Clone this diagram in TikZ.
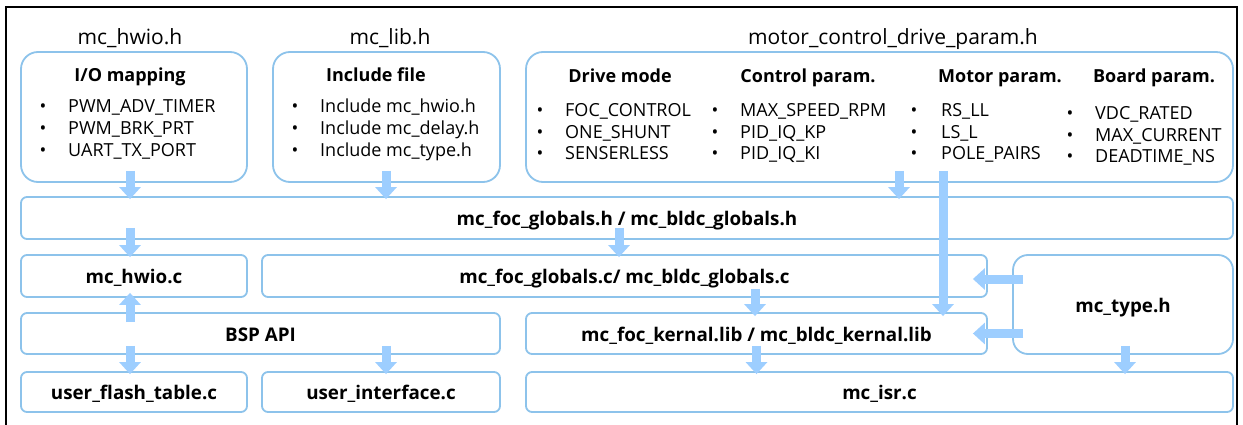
\documentclass[tikz,border=0pt]{standalone}
\usepackage{fontspec}
\setmainfont{Open Sans}
\usetikzlibrary{arrows.meta}
\definecolor{bord}{HTML}{8DC3EB}
\definecolor{arr}{HTML}{9DCEFF}
\begin{document}
\begin{tikzpicture}[x=1pt,y=-1pt,
  box/.style={draw=bord, line width=1.8pt, rounded corners=6pt, inner sep=0pt,
    text height=16pt, text depth=1pt, font=\fontsize{18.8}{21}\selectfont\bfseries},
  bigbox/.style={box, rounded corners=17pt},
  lbl/.style={anchor=base, inner sep=0pt, font=\fontsize{21}{24}\selectfont},
  hdr/.style={anchor=base, inner sep=0pt, font=\fontsize{18}{21}\selectfont\bfseries},
  bul/.style={anchor=base, inner sep=0pt, font=\fontsize{18}{21}\selectfont},
  itm/.style={anchor=base west, inner sep=0pt, font=\fontsize{18}{21}\selectfont},
  fat/.style={draw=arr, line width=9pt, -{Triangle[width=21pt,length=12pt]}},
  frame/.style={draw=black, line width=2.5pt}
]
\useasboundingbox (0,0) rectangle (1243,425);
\fill[white] (0,0) rectangle (1243,425);
\draw[frame] (6,440) -- (6,7) -- (1237,7) -- (1237,440);

% top boxes
\node[bigbox, minimum width=226pt, minimum height=130pt] (io)  at (134,117) {};
\node[bigbox, minimum width=227pt, minimum height=130pt] (inc) at (386.5,117) {};
\node[bigbox, minimum width=707pt, minimum height=130pt] (mot) at (879.5,117) {};

% file labels
\node[lbl] (lio)  at (130,45) {mc\_hwio.h};
\node[lbl] (linc) at (390,45) {mc\_lib.h};
\node[lbl] (lmot) at (893,45) {motor\_control\_drive\_param.h};

% headers
\node[hdr] (hio)  at (130,82) {I/O mapping};
\node[hdr] (hinc) at (376,82) {Include file};
\node[hdr] (hdrv) at (620,83) {Drive mode};
\node[hdr] (hctl) at (808,83) {Control param.};
\node[hdr] (hmtr) at (1000,83) {Motor param.};
\node[hdr] (hbrd) at (1154,83) {Board param.};

% bullet lists
\foreach \t [count=\i] in {PWM\_ADV\_TIMER, PWM\_BRK\_PRT, UART\_TX\_PORT}{
  \node[bul] (iob\i) at (43,{113+22*(\i-1)}) {•};
  \node[itm] (iot\i) at (68,{113+22*(\i-1)}) {\t};}
\foreach \t [count=\i] in {Include mc\_hwio.h, Include mc\_delay.h, Include mc\_type.h}{
  \node[bul] (incb\i) at (295,{113+22*(\i-1)}) {•};
  \node[itm] (inct\i) at (320,{113+22*(\i-1)}) {\t};}
\foreach \t [count=\i] in {FOC\_CONTROL, ONE\_SHUNT, SENSERLESS}{
  \node[bul] (drvb\i) at (540,{117+21.5*(\i-1)}) {•};
  \node[itm] (drvt\i) at (565,{117+21.5*(\i-1)}) {\t};}
\foreach \t [count=\i] in {MAX\_SPEED\_RPM, PID\_IQ\_KP, PID\_IQ\_KI}{
  \node[bul] (ctlb\i) at (715,{117+21.5*(\i-1)}) {•};
  \node[itm] (ctlt\i) at (740,{117+21.5*(\i-1)}) {\t};}
\foreach \t [count=\i] in {RS\_LL, LS\_L, POLE\_PAIRS}{
  \node[bul] (mtrb\i) at (914,{117+21.5*(\i-1)}) {•};
  \node[itm] (mtrt\i) at (941,{117+21.5*(\i-1)}) {\t};}
\foreach \t [count=\i] in {VDC\_RATED, MAX\_CURRENT, DEADTIME\_NS}{
  \node[bul] (brdb\i) at (1070,{120+21.5*(\i-1)}) {•};
  \node[itm] (brdt\i) at (1095,{120+21.5*(\i-1)}) {\t};}

% lower boxes
\node[box, minimum width=1212pt, minimum height=42pt] (glh) at (627,218) {mc\_foc\_globals.h / mc\_bldc\_globals.h};
\node[box, minimum width=226pt, minimum height=42pt] (hwc) at (134,276) {mc\_hwio.c};
\node[box, minimum width=725pt, minimum height=42pt] (glc) at (624.5,276) {mc\_foc\_globals.c/ mc\_bldc\_globals.c};
\node[box, rounded corners=15pt, minimum width=220pt, minimum height=99pt] (typ) at (1123,304.5) {mc\_type.h};
\node[box, minimum width=479pt, minimum height=41pt] (bsp) at (260.5,333.5) {BSP API};
\node[box, minimum width=461pt, minimum height=41pt] (ker) at (756.5,333.5) {mc\_foc\_kernal.lib / mc\_bldc\_kernal.lib};
\node[box, minimum width=226pt, minimum height=40pt] (ufl) at (134,392) {user\_flash\_table.c};
\node[box, minimum width=238pt, minimum height=40pt] (uif) at (381,392) {user\_interface.c};
\node[box, minimum width=707pt, minimum height=40pt] (isr) at (879.5,392) {mc\_isr.c};

% arrows
\draw[fat] ([xshift=-4pt,yshift=12pt]io.south) -- ([xshift=-4pt,yshift=-3pt]io.south |- glh.north);
\draw[fat] ([xshift=-0.5pt,yshift=12pt]inc.south) -- ([xshift=-0.5pt,yshift=-3pt]inc.south |- glh.north);
\draw[fat] ([xshift=19.5pt,yshift=12pt]mot.south) -- ([xshift=19.5pt,yshift=-3pt]mot.south |- glh.north);
\draw[fat] ([xshift=63.5pt,yshift=12pt]mot.south) -- ([xshift=63.5pt,yshift=-4pt]mot.south |- ker.north);
\draw[fat] ([xshift=-4pt,yshift=12pt]hwc.north |- glh.south) -- ([xshift=-4pt,yshift=-3pt]hwc.north);
\draw[fat] ([xshift=-5.5pt,yshift=12pt]glc.north |- glh.south) -- ([xshift=-5.5pt,yshift=-3pt]glc.north);
\draw[fat] ([xshift=-4pt,yshift=-10pt]hwc.south |- bsp.north) -- ([xshift=-4pt,yshift=5pt]hwc.south);
\draw[fat] ([xshift=-4pt,yshift=9pt]ufl.north |- bsp.south) -- ([xshift=-4pt,yshift=-3pt]ufl.north);
\draw[fat] ([xshift=5pt,yshift=9pt]uif.north |- bsp.south) -- ([xshift=5pt,yshift=-3pt]uif.north);
\draw[fat] ([xshift=-1.5pt,yshift=9pt]ker.north |- glc.south) -- ([xshift=-1.5pt,yshift=-4pt]ker.north);
\draw[fat] ([xshift=11pt,yshift=-3pt]typ.west |- glc.east) -- ([xshift=-15pt,yshift=-3pt]glc.east);
\draw[fat] ([xshift=11pt]typ.west |- ker.east) -- ([xshift=-15pt]ker.east);
\draw[fat] ([yshift=9pt]ker.south) -- ([yshift=-3pt]ker.south |- isr.north);
\draw[fat] ([xshift=2pt,yshift=9pt]typ.south) -- ([xshift=2pt,yshift=-3pt]typ.south |- isr.north);
\end{tikzpicture}
\end{document}
